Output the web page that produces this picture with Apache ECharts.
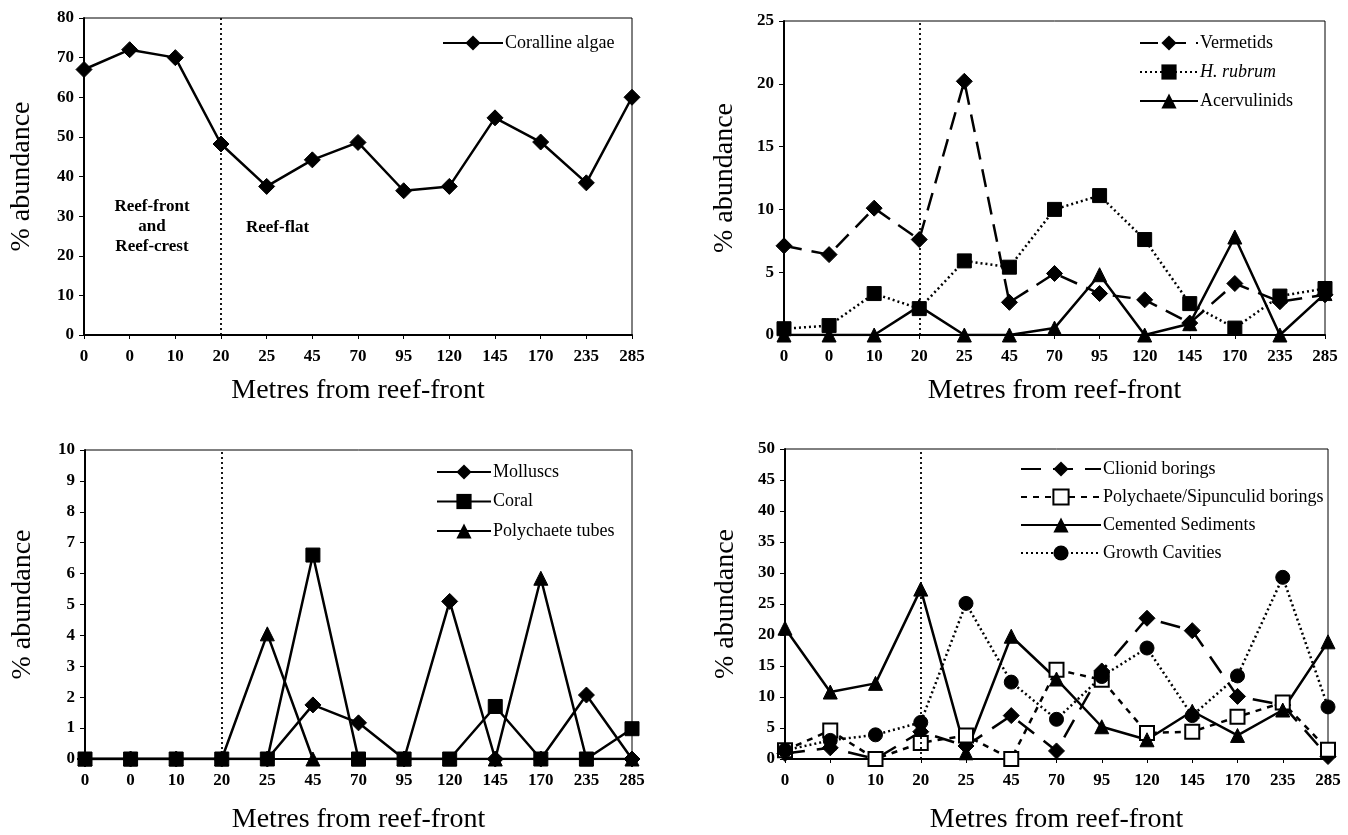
<!DOCTYPE html>
<html>
<head>
<meta charset="utf-8">
<script src="https://cdn.jsdelivr.net/npm/echarts@6/dist/echarts.min.js"></script>
<style>html,body{margin:0;padding:0;background:#fff}#c{width:1348px;height:835px}</style>
</head>
<body>
<div id="c"></div>
<script>
// ---- data ----
const categories = ['0','0','10','20','25','45','70','95','120','145','170','235','285'];

const corallineAlgae = [67, 72, 70, 48.2, 37.5, 44.2, 48.6, 36.4, 37.5, 54.8, 48.7, 38.4, 60];

const vermetids    = [7.1, 6.4, 10.1, 7.6, 20.2, 2.6, 4.9, 3.3, 2.8, 0.95, 4.1, 2.65, 3.2];
const hRubrum      = [0.5, 0.75, 3.3, 2.1, 5.9, 5.4, 10.0, 11.1, 7.6, 2.5, 0.55, 3.1, 3.7];
const acervulinids = [0, 0, 0, 2.3, 0, 0, 0.55, 4.8, 0, 0.9, 7.8, 0, 3.3];

const molluscs        = [0, 0, 0, 0, 0, 1.75, 1.17, 0, 5.1, 0, 0, 2.07, 0];
const coral           = [0, 0, 0, 0, 0, 6.6, 0, 0, 0, 1.7, 0, 0, 0.98];
const polychaeteTubes = [0, 0, 0, 0, 4.05, 0, 0, 0, 0, 0, 5.85, 0, 0];

const clionidBorings    = [0.9, 1.8, 0, 4.4, 2.1, 7.0, 1.3, 14.2, 22.7, 20.7, 10.1, 8.7, 0.4];
const polySipBorings    = [1.4, 4.6, 0, 2.6, 3.8, 0, 14.4, 12.8, 4.2, 4.4, 6.8, 9.1, 1.5];
const cementedSediments = [21.1, 10.8, 12.2, 27.4, 1.0, 19.8, 12.9, 5.2, 3.1, 7.7, 3.8, 7.9, 18.9];
const growthCavities    = [1.4, 3.0, 3.9, 5.9, 25.1, 12.4, 6.4, 13.3, 17.9, 7.0, 13.4, 29.3, 8.4];

const yMax = [80, 25, 10, 50];
const yInterval = [10, 5, 1, 5];
const boundaryCategory = 3; // "20" m: reef-front/reef-flat boundary

// ---- styling ----
const FONT = '"Liberation Serif", "Times New Roman", serif';
const BLACK = '#000';
const grids = [
  {left: 84,  top: 18,  width: 548, height: 317},
  {left: 784, top: 21,  width: 541, height: 314},
  {left: 85,  top: 450, width: 547, height: 314},
  {left: 785, top: 449, width: 543, height: 316}
];

const xAxes = grids.map((g, i) => ({
  type: 'category', gridIndex: i, data: categories, boundaryGap: false,
  axisLine: {lineStyle: {color: BLACK, width: 2}},
  axisTick: {show: true, length: 4, lineStyle: {color: BLACK}},
  axisLabel: {color: BLACK, fontFamily: FONT, fontSize: 17, fontWeight: 'bold', margin: 13, interval: 0},
  name: 'Metres from reef-front', nameLocation: 'middle', nameGap: i < 2 ? 42 : 47,
  nameTextStyle: {color: BLACK, fontFamily: FONT, fontSize: 28}
}));

const yAxes = grids.map((g, i) => ({
  type: 'value', gridIndex: i, min: 0, max: yMax[i], interval: yInterval[i],
  splitLine: {show: false},
  axisLine: {show: true, lineStyle: {color: BLACK, width: 2}},
  axisTick: {show: true, length: 5, lineStyle: {color: BLACK}},
  axisLabel: {color: BLACK, fontFamily: FONT, fontSize: 17, fontWeight: 'bold', margin: 10},
  name: '% abundance', nameLocation: 'middle', nameGap: i % 2 === 0 ? 48 : 45,
  nameTextStyle: {color: BLACK, fontFamily: FONT, fontSize: 28}
}));

function line(name, data, idx, symbol, dash, opts = {}) {
  return Object.assign({
    type: 'line', name, data, xAxisIndex: idx, yAxisIndex: idx,
    symbol, symbolSize: symbol === 'diamond' ? 16 : 14,
    color: BLACK,
    lineStyle: {color: BLACK, width: 2.5, type: dash},
    itemStyle: {color: BLACK, borderColor: BLACK},
    emphasis: {disabled: true}, animation: false, z: 3
  }, opts);
}

const vline = {
  silent: true, symbol: 'none', label: {show: false}, animation: false,
  lineStyle: {color: BLACK, width: 1.8, type: [2, 3]},
  data: [{xAxis: boundaryCategory}]
};

const series = [
  line('Coralline algae', corallineAlgae, 0, 'diamond', 'solid', {markLine: vline}),

  line('Vermetids', vermetids, 1, 'diamond', [18, 10], {markLine: vline}),
  line('H. rubrum', hRubrum, 1, 'rect', [2, 3]),
  line('Acervulinids', acervulinids, 1, 'triangle', 'solid'),

  line('Molluscs', molluscs, 2, 'diamond', 'solid', {markLine: vline}),
  line('Coral', coral, 2, 'rect', 'solid'),
  line('Polychaete tubes', polychaeteTubes, 2, 'triangle', 'solid'),

  line('Clionid borings', clionidBorings, 3, 'diamond', [20, 12], {markLine: vline}),
  line('Polychaete/Sipunculid borings', polySipBorings, 3, 'rect', [6, 6],
       {itemStyle: {color: '#fff', borderColor: BLACK, borderWidth: 2}}),
  line('Cemented Sediments', cementedSediments, 3, 'triangle', 'solid'),
  line('Growth Cavities', growthCavities, 3, 'circle', [2, 3])
];

function legend(names, left, top, gap, w) {
  return {
    orient: 'vertical', left, top, itemGap: gap, itemWidth: w, itemHeight: 19,
    data: names, selectedMode: false, inactiveColor: BLACK,
    textStyle: {color: BLACK, fontFamily: FONT, fontSize: 18, lineHeight: 20, padding: [0, 0, 0, -3],
      rich: {i: {fontStyle: 'italic', fontFamily: FONT, fontSize: 18, color: BLACK}}},
    formatter: n => n === 'H. rubrum' ? '{i|H. rubrum}' : n
  };
}

const option = {
  backgroundColor: '#fff',
  animation: false,
  grid: grids.map(g => Object.assign({show: true, borderColor: BLACK, borderWidth: 1, containLabel: false}, g)),
  xAxis: xAxes,
  yAxis: yAxes,
  legend: [
    legend(['Coralline algae'], 437, 28, 10, 60),
    legend(['Vermetids', 'H. rubrum', 'Acervulinids'], 1134, 28, 9, 58),
    legend(['Molluscs', 'Coral', 'Polychaete tubes'], 431, 457, 9.5, 54),
    legend(['Clionid borings', 'Polychaete/Sipunculid borings', 'Cemented Sediments', 'Growth Cavities'], 1015, 454, 8, 80)
  ],
  graphic: [
    {type: 'text', x: 152, y: 197, style: {text: 'Reef-front\nand\nReef-crest', align: 'center',
      font: 'bold 17px ' + FONT, lineHeight: 20, fill: BLACK}},
    {type: 'text', x: 246, y: 219, style: {text: 'Reef-flat', font: 'bold 17px ' + FONT, fill: BLACK}}
  ],
  series
};

const chart = echarts.init(document.getElementById('c'), null, {renderer: 'canvas'});
chart.setOption(option);
</script>
</body>
</html>
